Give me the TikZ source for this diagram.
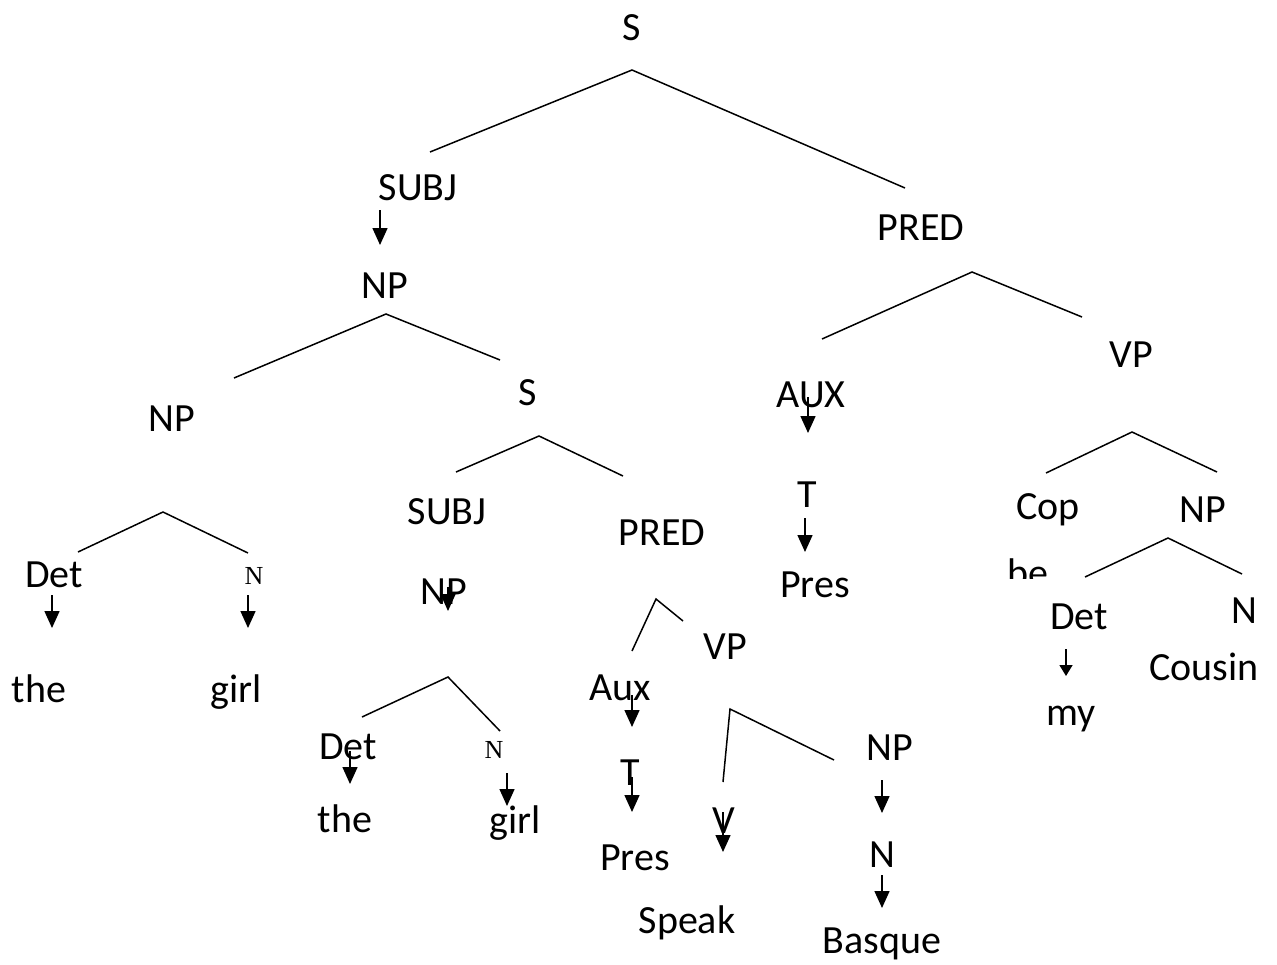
\documentclass[tikz,border=0pt]{standalone}
\usepackage{fontspec}
\setmainfont{Carlito}
\newfontfamily\serifN{Liberation Serif}
\usetikzlibrary{arrows.meta}
\tikzset{
  lbl/.style={anchor=base, inner sep=0pt, font=\fontsize{40}{44}\selectfont},
  slbl/.style={anchor=base, inner sep=0pt, font=\serifN\fontsize{26}{28}\selectfont},
  branch/.style={line width=1.5pt},
  down/.style={line width=1.5pt, -{Triangle[width=15pt,length=17pt]}},
  downsm/.style={line width=1.5pt, -{Triangle[width=13pt,length=11pt]}}
}
\begin{document}
\begin{tikzpicture}[x=1pt,y=-1pt]
\useasboundingbox (0,0) rectangle (1277,964);

% ---- top level ----
\node[lbl] (s) at (632,40) {S};
\coordinate (sA) at (632,70);
\coordinate (sL) at (430,152);
\coordinate (sR) at (905,188);
\draw[branch] (sL) -- (sA) -- (sR);

\node[lbl] (subj) at (418,200) {SUBJ};
\node[lbl] (pred) at (921,240) {PRED};

% ---- subject: NP -> NP S ----
\coordinate (a1) at (380,210); \coordinate (b1) at (380,245);
\draw[down] (a1) -- (b1);
\node[lbl] (np) at (385,298) {NP};
\coordinate (npA) at (386,314);
\coordinate (npL) at (234,378);
\coordinate (npR) at (500,360);
\draw[branch] (npL) -- (npA) -- (npR);

\node[lbl] (npl) at (172,431) {NP};
\node[lbl] (smid) at (528,405) {S};

% NP -> Det N
\coordinate (dnA) at (163,512);
\coordinate (dnL) at (78,552);
\coordinate (dnR) at (248,553);
\draw[branch] (dnL) -- (dnA) -- (dnR);
\node[lbl] (det1) at (54,587) {Det};
\node[slbl] (n1) at (254,584) {N};
\coordinate (a2) at (52,595); \coordinate (b2) at (52,628);
\draw[down] (a2) -- (b2);
\coordinate (a3) at (248,595); \coordinate (b3) at (248,628);
\draw[down] (a3) -- (b3);
\node[lbl] (the1) at (39,702) {the};
\node[lbl] (girl1) at (236,702) {girl};

% relative clause S -> SUBJ PRED
\coordinate (smA) at (539,436);
\coordinate (smL) at (456,472);
\coordinate (smR) at (623,476);
\draw[branch] (smL) -- (smA) -- (smR);
\node[lbl] (subj2) at (447,524) {SUBJ};
\node[lbl] (pred2) at (662,545) {PRED};

\node[lbl] (np2) at (444,604) {NP};
\coordinate (a4) at (448,587); \coordinate (b4) at (448,611);
\draw[down] (a4) -- (b4);
\coordinate (dn2A) at (448,677);
\coordinate (dn2L) at (362,717);
\coordinate (dn2R) at (500,731);
\draw[branch] (dn2L) -- (dn2A) -- (dn2R);
\node[lbl] (det2) at (348,759) {Det};
\node[slbl] (n2) at (494,758) {N};
\coordinate (a5) at (350,751); \coordinate (b5) at (350,784);
\draw[down] (a5) -- (b5);
\coordinate (a6) at (507,773); \coordinate (b6) at (507,806);
\draw[down] (a6) -- (b6);
\node[lbl] (the2) at (345,832) {the};
\node[lbl] (girl2) at (515,833) {girl};

% PRED -> Aux VP
\coordinate (p2A) at (656,599);
\coordinate (p2L) at (632,651);
\coordinate (p2R) at (683,621);
\draw[branch] (p2L) -- (p2A) -- (p2R);
\node[lbl] (vp2) at (725,659) {VP};
\node[lbl] (aux2) at (620,700) {Aux};
\coordinate (a7) at (632,695); \coordinate (b7) at (632,727);
\draw[down] (a7) -- (b7);
\node[lbl] (t2) at (630,785) {T};
\coordinate (a8) at (632,777); \coordinate (b8) at (632,812);
\draw[down] (a8) -- (b8);
\node[lbl] (pres2) at (635,870) {Pres};

% VP -> V NP
\coordinate (v2A) at (730,709);
\coordinate (v2L) at (723,782);
\coordinate (v2R) at (834,760);
\draw[branch] (v2L) -- (v2A) -- (v2R);
\node[lbl] (v) at (724,833) {V};
\coordinate (a9) at (723,812); \coordinate (b9) at (723,852);
\draw[down] (a9) -- (b9);
\node[lbl] (speak) at (687,933) {Speak};
\node[lbl] (np3) at (890,760) {NP};
\coordinate (a10) at (882,780); \coordinate (b10) at (882,813);
\draw[down] (a10) -- (b10);
\node[lbl] (n3) at (882,867) {N};
\coordinate (a11) at (882,875); \coordinate (b11) at (882,908);
\draw[down] (a11) -- (b11);
\node[lbl] (basque) at (882,953) {Basque};

% ---- predicate: PRED -> AUX VP ----
\coordinate (pA) at (972,272);
\coordinate (pL) at (822,339);
\coordinate (pR) at (1082,317);
\draw[branch] (pL) -- (pA) -- (pR);
\node[lbl] (vp) at (1131,367) {VP};
\node[lbl] (aux) at (811,407) {AUX};
\coordinate (a12) at (808,397); \coordinate (b12) at (808,433);
\draw[down] (a12) -- (b12);
\node[lbl] (t) at (807,507) {T};
\coordinate (a13) at (805,518); \coordinate (b13) at (805,552);
\draw[down] (a13) -- (b13);
\node[lbl] (pres) at (815,597) {Pres};

% VP -> Cop NP
\coordinate (vA) at (1132,432);
\coordinate (vL) at (1046,473);
\coordinate (vR) at (1217,472);
\draw[branch] (vL) -- (vA) -- (vR);
\node[lbl] (cop) at (1048,519) {Cop};
\node[lbl] (np4) at (1203,522) {NP};
% the copula's word is cut off along the lower edge
\begin{scope}
  \clip (995,540) rectangle (1070,578);
  \node[lbl] (be) at (1028,586) {be};
\end{scope}
\coordinate (n4A) at (1168,538);
\coordinate (n4L) at (1085,577);
\coordinate (n4R) at (1242,574);
\draw[branch] (n4L) -- (n4A) -- (n4R);
\node[lbl] (det4) at (1079,629) {Det};
\node[lbl] (n4) at (1244,623) {N};
\coordinate (a14) at (1066,649); \coordinate (b14) at (1066,676);
\draw[downsm] (a14) -- (b14);
\node[lbl] (my) at (1071,725) {my};
\node[lbl] (cousin) at (1204,680) {Cousin};
\end{tikzpicture}
\end{document}
